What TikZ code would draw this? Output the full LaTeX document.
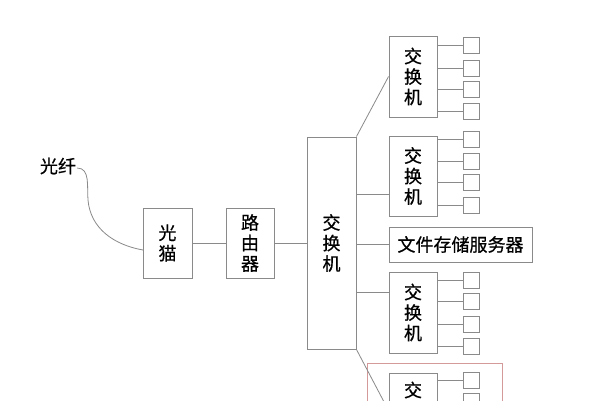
\documentclass[tikz,border=0pt]{standalone}
\usepackage{fontspec}
\newfontfamily\cjk[FakeBold=0.6]{Noto Sans CJK SC}
\definecolor{ln}{HTML}{8A8A8A}
\definecolor{rd}{HTML}{D49A9A}
\begin{document}
\begin{tikzpicture}[x=1pt,y=-1pt,
  box/.style={draw=ln,line width=0.9pt,fill=white,inner sep=0pt,align=center,
    font=\cjk\fontsize{18}{20.5}\selectfont},
  swbox/.style={box,minimum width=48pt,minimum height=81pt},
  port/.style={draw=ln,line width=0.9pt,inner sep=0pt,minimum width=16pt,minimum height=16pt},
  wire/.style={draw=ln,line width=0.8pt}]
\useasboundingbox (0,0) rectangle (590,400);
\clip (0,0) rectangle (590,400);
\fill[white] (0,0) rectangle (590,400);
% red frame
\draw[rd,line width=0.8pt] (367,363) rectangle (502,480);
% main nodes
\node[box,minimum width=49pt,minimum height=70pt] (gm) at (167.5,243) {光\\猫};
\node[box,minimum width=48pt,minimum height=70pt] (rt) at (250,243) {路\\由\\器};
\node[box,minimum width=49pt,minimum height=212pt] (ms) at (331.5,243) {交\\换\\机};
\node[swbox] (s1) at (413,76.5) {交\\换\\机};
\node[swbox,minimum height=80pt] (s2) at (413,176) {交\\换\\机};
\node[box,minimum width=143pt,minimum height=35pt] (sv) at (460.5,244.5) {文件存储服务器};
\node[swbox] (s3) at (413,312.5) {交\\换\\机};
\node[swbox,minimum height=75pt] (s4) at (413,410.5) {交\\换\\机};
\node[font=\cjk\fontsize{18}{20}\selectfont,inner sep=0pt] (gx) at (58,166) {光纤};
% ports
\foreach \s/\a/\b/\c/\d in {s1/45.5/68/89/111, s2/139/161/182/205, s3/280/301/324/346, s4/380/401/423/445}{
  \foreach \y [count=\i] in {\a,\b,\c,\d}{
    \node[port] (\s p\i) at (471,\y) {};
    \draw[wire] (\s.east |- \s p\i.west) -- (\s p\i.west);
  }
}
% connectors
\coordinate (fe) at (143,250);
\draw[wire] (gx.east) ++(1,2) to[out=0,in=95] (88,200) to[out=-85,in=170] (fe);
\draw[wire] (gm.east) -- (rt.west);
\draw[wire] (rt.east) -- (ms.west);
\draw[wire] (ms.north east) -- (s1.west);
\coordinate (c2) at (389,194);
\draw[wire] (ms.east |- c2) -- (c2);
\draw[wire] (ms.east |- sv.west) -- (sv.west);
\coordinate (c3) at (389,292);
\draw[wire] (ms.east |- c3) -- (c3);
\draw[wire] (ms.south east) -- (s4.west);
\end{tikzpicture}
\end{document}
